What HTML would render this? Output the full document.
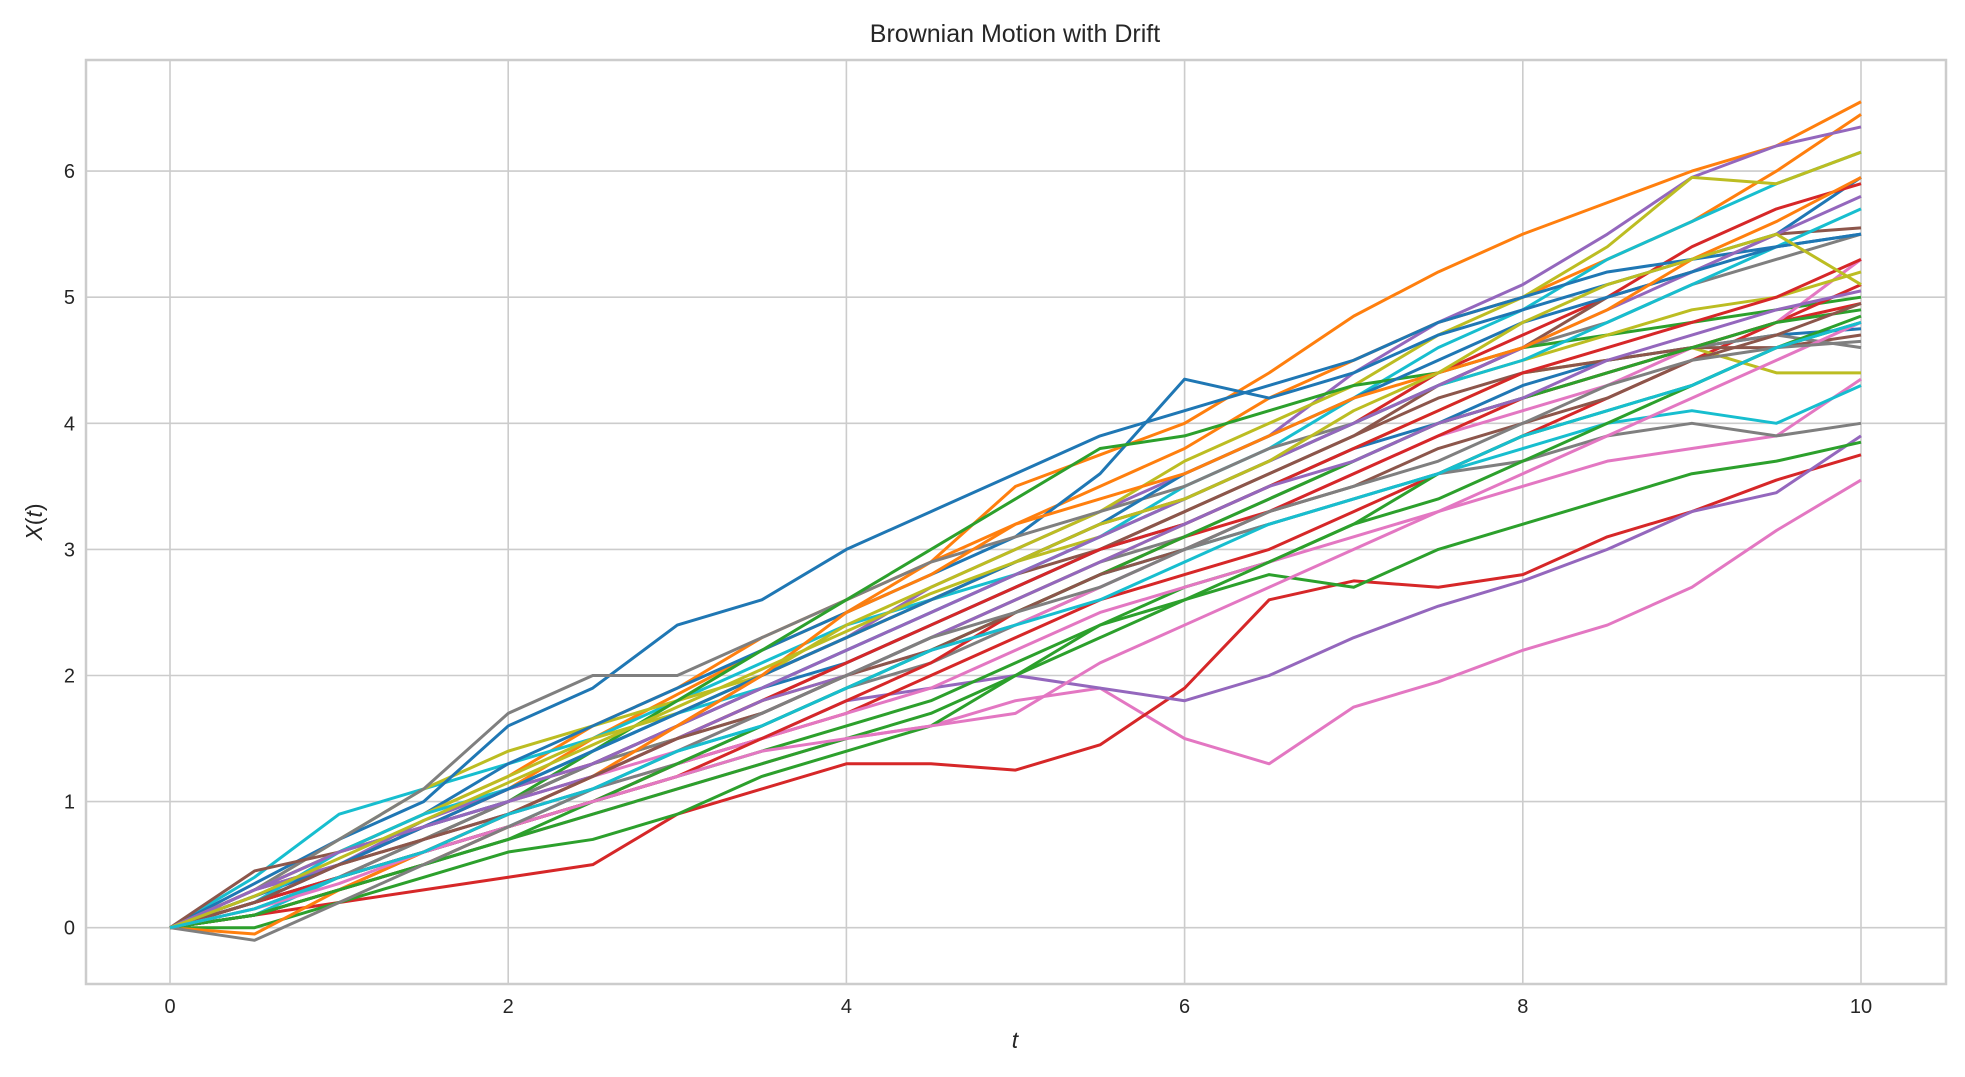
<!DOCTYPE html>
<html><head><meta charset="utf-8"><style>
html,body{margin:0;padding:0;background:#fff;}
svg{display:block;font-family:"Liberation Sans",sans-serif;}
</style></head><body>
<svg id="chart" width="1965" height="1077" viewBox="0 0 1965 1077" xmlns="http://www.w3.org/2000/svg">
<rect x="86" y="60" width="1860" height="924" fill="#fff" stroke="#cccccc" stroke-width="2.5"/>
<g id="grid"></g>
<g id="lines"></g>
<g id="ticks"></g>
<text x="1015" y="42" text-anchor="middle" font-size="25" fill="#262626">Brownian Motion with Drift</text>
<text x="1015" y="1048" text-anchor="middle" font-size="23" font-style="italic" fill="#262626">t</text>
<text x="42" y="522" text-anchor="middle" font-size="23" fill="#262626" transform="rotate(-90 42 522)"><tspan font-style="italic">X</tspan>(<tspan font-style="italic">t</tspan>)</text>
</svg>
<script>
const xTicks=[0,2,4,6,8,10];
const yTicks=[0,1,2,3,4,5,6];
const times=[0,0.5,1,1.5,2,2.5,3,3.5,4,4.5,5,5.5,6,6.5,7,7.5,8,8.5,9,9.5,10];
const palette=["#1f77b4","#ff7f0e","#2ca02c","#d62728","#9467bd","#8c564b","#e377c2","#7f7f7f","#bcbd22","#17becf"];
const seriesColor=[1,1,4,9,8,0,3,0,7,5,2,6,3,4,3,2,2,8,6,9,7,6,0,5,7,8,9,3,4,2,0,1,2,3,4,5,6,7,8,9];
const s1=[0,.2,.5,.8,1.1,1.5,1.85,2.2,2.5,2.9,3.5,3.75,4.0,4.4,4.85,5.2,5.5,5.75,6.0,6.2,6.55];
const s2=[0,.3,.6,.9,1.2,1.6,1.9,2.3,2.6,2.9,3.2,3.5,3.8,4.2,4.5,4.8,5.0,5.3,5.6,6.0,6.45];
const s3=[0,.25,.5,.85,1.1,1.4,1.7,2.0,2.3,2.7,3.0,3.3,3.6,3.9,4.4,4.8,5.1,5.5,5.95,6.2,6.35];
const s4=[0,.4,.9,1.1,1.3,1.5,1.8,2.1,2.4,2.6,2.8,3.1,3.5,3.8,4.2,4.6,4.9,5.3,5.6,5.9,6.15];
const s5=[0,.3,.7,1.1,1.4,1.6,1.8,2.0,2.4,2.7,3.0,3.3,3.7,4.0,4.3,4.7,5.0,5.4,5.95,5.9,6.15];
const s6=[0,.3,.6,.9,1.3,1.6,1.9,2.2,2.5,2.8,3.1,3.6,4.35,4.2,4.4,4.7,4.9,5.1,5.3,5.5,5.95];
const s7=[0,.2,.5,.8,1.1,1.3,1.6,2.0,2.3,2.6,2.9,3.2,3.4,3.7,4.0,4.4,4.7,5.0,5.4,5.7,5.9];
const s8=[0,.35,.7,1.0,1.6,1.9,2.4,2.6,3.0,3.3,3.6,3.9,4.1,4.3,4.5,4.8,5.0,5.2,5.3,5.4,5.5];
const s9=[0,.3,.7,1.1,1.7,2.0,2.0,2.3,2.6,2.9,3.1,3.3,3.5,3.8,4.0,4.3,4.6,4.8,5.1,5.3,5.5];
const s10=[0,.45,.6,.8,1.0,1.2,1.5,1.8,2.1,2.4,2.7,3.0,3.3,3.6,3.9,4.3,4.6,5.0,5.2,5.5,5.55];
const s11=[0,.2,.4,.7,1.0,1.4,1.8,2.2,2.6,3.0,3.4,3.8,3.9,4.1,4.3,4.4,4.6,4.7,4.8,4.9,5.0];
const s12=[0,.1,.3,.5,.7,.9,1.1,1.3,1.5,1.6,1.8,1.9,1.5,1.3,1.75,1.95,2.2,2.4,2.7,3.15,3.55];
const s13=[0,.1,.2,.3,.4,.5,.9,1.1,1.3,1.3,1.25,1.45,1.9,2.6,2.75,2.7,2.8,3.1,3.3,3.55,3.75];
const s14=[0,.2,.4,.6,.8,1.0,1.3,1.5,1.8,1.9,2.0,1.9,1.8,2.0,2.3,2.55,2.75,3.0,3.3,3.45,3.9];
const s15=[0,.1,.3,.5,.8,1.0,1.3,1.5,1.7,2.0,2.3,2.6,2.8,3.0,3.3,3.6,3.9,4.2,4.5,4.8,5.1];
const s16=[0,0,.2,.4,.6,.7,.9,1.2,1.4,1.6,2.0,2.4,2.6,2.8,2.7,3.0,3.2,3.4,3.6,3.7,3.85];
const s17=[0,.2,.4,.6,.8,1.0,1.2,1.4,1.6,1.8,2.1,2.4,2.7,2.9,3.2,3.6,3.9,4.1,4.3,4.6,4.8];
const s18=[0,.3,.6,.8,1.0,1.3,1.5,1.8,2.0,2.3,2.6,2.9,3.2,3.5,3.8,4.1,4.4,4.5,4.6,4.4,4.4];
const s19=[0,.2,.4,.7,.9,1.1,1.3,1.5,1.7,1.9,2.2,2.5,2.7,2.9,3.1,3.3,3.5,3.7,3.8,3.9,4.35];
const s20=[0,.1,.4,.6,.8,1.1,1.4,1.6,1.9,2.2,2.5,2.8,3.0,3.2,3.4,3.6,3.8,4.0,4.1,4.0,4.3];
const s21=[0,.15,.4,.7,.9,1.1,1.3,1.6,1.9,2.1,2.4,2.7,3.0,3.2,3.4,3.6,3.7,3.9,4.0,3.9,4.0];
const s22=[0,.2,.5,.8,1.0,1.2,1.4,1.7,2.0,2.2,2.4,2.7,3.0,3.3,3.6,3.9,4.1,4.3,4.6,4.8,5.3];
const s23=[0,.25,.5,.8,1.0,1.3,1.6,1.9,2.1,2.4,2.7,3.0,3.2,3.5,3.8,4.0,4.3,4.5,4.6,4.7,4.75];
const s24=[0,.3,.5,.7,1.0,1.3,1.6,1.9,2.2,2.5,2.8,3.0,3.3,3.6,3.9,4.2,4.4,4.5,4.6,4.6,4.7];
const s25=[0,.2,.4,.7,1.0,1.3,1.5,1.7,2.0,2.3,2.6,2.9,3.1,3.4,3.7,4.0,4.2,4.4,4.6,4.7,4.6];
const s26=[0,.3,.6,.9,1.2,1.5,1.7,2.0,2.3,2.6,2.9,3.1,3.4,3.7,4.0,4.3,4.5,4.7,4.9,5.0,5.2];
const s27=[0,.2,.6,.9,1.1,1.4,1.7,1.9,2.2,2.5,2.8,3.1,3.4,3.7,4.0,4.3,4.5,4.8,5.1,5.4,5.7];
const s28=[0,.1,.3,.6,.8,1.0,1.2,1.5,1.8,2.1,2.5,2.8,3.1,3.3,3.6,3.9,4.2,4.4,4.6,4.8,4.95];
const s29=[0,.3,.5,.8,1.1,1.3,1.6,1.9,2.2,2.5,2.8,3.1,3.4,3.7,4.0,4.3,4.6,4.9,5.2,5.5,5.8];
const s30=[0,.1,.3,.5,.7,1.0,1.3,1.6,1.9,2.2,2.5,2.8,3.1,3.4,3.7,4.0,4.2,4.4,4.6,4.8,4.9];
const s31=[0,.2,.5,.8,1.1,1.4,1.7,2.0,2.3,2.6,2.9,3.2,3.6,3.9,4.2,4.5,4.8,5.0,5.2,5.4,5.5];
const s32=[0,-.05,.3,.6,.9,1.2,1.6,2.0,2.5,2.8,3.2,3.4,3.6,3.9,4.2,4.4,4.6,4.9,5.3,5.6,5.95];
const s33=[0,.1,.3,.5,.7,.9,1.1,1.3,1.5,1.7,2.0,2.3,2.6,2.9,3.2,3.4,3.7,4.0,4.3,4.6,4.85];
const s34=[0,.2,.4,.6,.9,1.2,1.5,1.8,2.1,2.4,2.7,3.0,3.2,3.5,3.8,4.1,4.4,4.6,4.8,5.0,5.3];
const s35=[0,.3,.6,.8,1.0,1.2,1.5,1.8,2.0,2.3,2.6,2.9,3.2,3.5,3.7,4.0,4.2,4.5,4.7,4.9,5.05];
const s36=[0,.2,.5,.7,.9,1.2,1.5,1.7,2.0,2.2,2.5,2.8,3.0,3.3,3.5,3.8,4.0,4.2,4.5,4.7,4.95];
const s37=[0,.15,.35,.6,.8,1.0,1.2,1.4,1.5,1.6,1.7,2.1,2.4,2.7,3.0,3.3,3.6,3.9,4.2,4.5,4.8];
const s38=[0,-.1,.2,.5,.8,1.1,1.4,1.7,2.0,2.3,2.5,2.7,3.0,3.3,3.5,3.7,4.0,4.3,4.5,4.6,4.65];
const s39=[0,.25,.55,.85,1.15,1.45,1.75,2.05,2.35,2.65,2.9,3.2,3.4,3.7,4.1,4.4,4.8,5.1,5.3,5.5,5.1];
const s40=[0,.15,.4,.6,.9,1.1,1.4,1.6,1.9,2.2,2.4,2.6,2.9,3.2,3.4,3.6,3.9,4.1,4.3,4.6,4.8];
const allSeries=[s1,s2,s3,s4,s5,s6,s7,s8,s9,s10,s11,s12,s13,s14,s15,s16,s17,s18,s19,s20,s21,s22,s23,s24,s25,s26,s27,s28,s29,s30,s31,s32,s33,s34,s35,s36,s37,s38,s39,s40];

const NS="http://www.w3.org/2000/svg";
function xs(v){return 170+(v-0)*(1861-170)/10;}
function ys(v){return 927.7-v*126.1;}
const grid=document.getElementById('grid'),ticks=document.getElementById('ticks'),lines=document.getElementById('lines');
xTicks.forEach(t=>{
  const l=document.createElementNS(NS,'line');
  l.setAttribute('x1',xs(t));l.setAttribute('x2',xs(t));l.setAttribute('y1',60);l.setAttribute('y2',984);
  l.setAttribute('stroke','#cccccc');l.setAttribute('stroke-width','1.6');
  
  
  grid.appendChild(l);
  const tx=document.createElementNS(NS,'text');
  tx.setAttribute('x',xs(t));tx.setAttribute('y',1013);tx.setAttribute('text-anchor','middle');
  tx.setAttribute('font-size','20');tx.setAttribute('fill','#262626');tx.textContent=t;
  
  
  ticks.appendChild(tx);
});
yTicks.forEach(t=>{
  const l=document.createElementNS(NS,'line');
  l.setAttribute('x1',86);l.setAttribute('x2',1946);l.setAttribute('y1',ys(t));l.setAttribute('y2',ys(t));
  l.setAttribute('stroke','#cccccc');l.setAttribute('stroke-width','1.6');
  
  
  grid.appendChild(l);
  const tx=document.createElementNS(NS,'text');
  tx.setAttribute('x',75);tx.setAttribute('y',ys(t)+7);tx.setAttribute('text-anchor','end');
  tx.setAttribute('font-size','20');tx.setAttribute('fill','#262626');tx.textContent=t;
  
  
  ticks.appendChild(tx);
});
allSeries.forEach((s,i)=>{
  const p=document.createElementNS(NS,'polyline');
  p.setAttribute('points',s.map((v,j)=>xs(times[j])+','+ys(v)).join(' '));
  p.setAttribute('fill','none');p.setAttribute('stroke',palette[seriesColor[i]]);
  p.setAttribute('stroke-width','3');p.setAttribute('stroke-linejoin','round');
  
  
  lines.appendChild(p);
});
</script>
</body></html>
